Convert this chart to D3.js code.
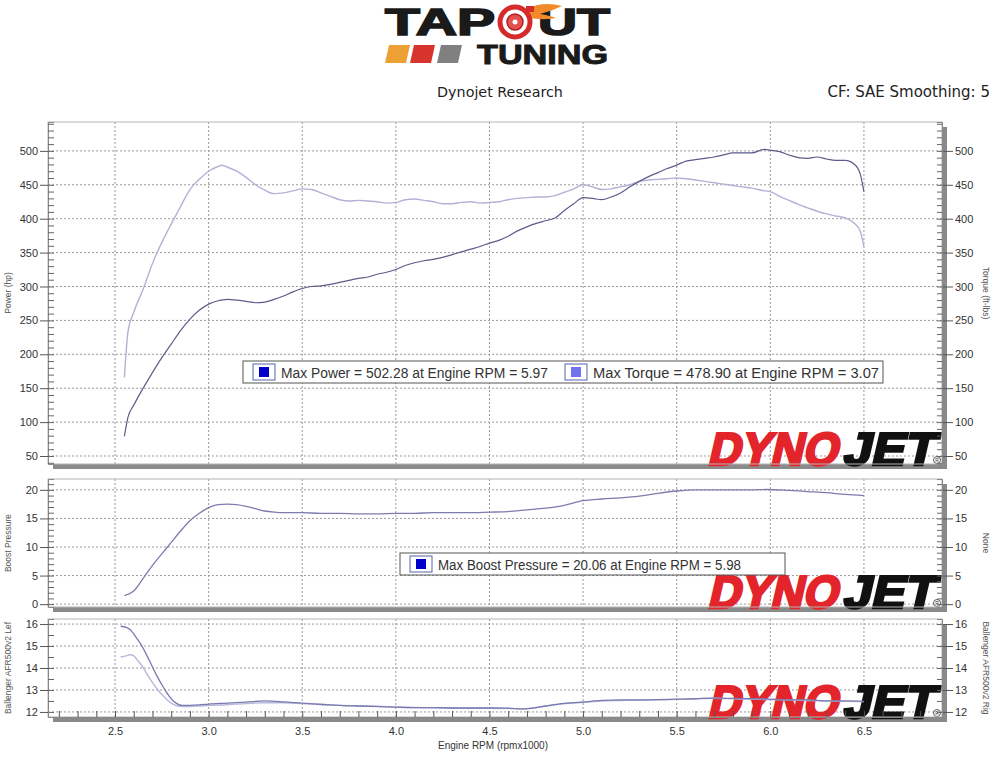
<!DOCTYPE html>
<html><head><meta charset="utf-8">
<script src="https://cdn.jsdelivr.net/npm/d3@7"></script>
<style>body{margin:0;background:#fff;} svg{display:block}</style>
</head><body><svg id="c" width="1000" height="770"></svg>
<script>
// ---------------- DATA ----------------
const rpmTop = [2.55,2.57,2.6,2.65,2.7,2.75,2.8,2.85,2.9,2.95,3.0,3.05,3.07,3.1,3.15,3.2,3.25,3.3,3.35,3.4,3.45,3.5,3.55,3.6,3.65,3.7,3.75,3.8,3.85,3.9,3.95,4.0,4.05,4.1,4.15,4.2,4.25,4.3,4.35,4.4,4.45,4.5,4.55,4.6,4.65,4.7,4.75,4.8,4.85,4.9,4.95,5.0,5.05,5.1,5.15,5.2,5.25,5.3,5.35,5.4,5.45,5.5,5.55,5.6,5.65,5.7,5.75,5.8,5.85,5.9,5.97,6.0,6.05,6.1,6.15,6.2,6.25,6.3,6.35,6.4,6.45,6.48,6.5];
const powerHp = [79,108,125,150,173,195,215,235,252,265,274,279,280,281,280,278,276,277,281,286,292,297,300,301,303,306,309,312,314,318,321,325,331,335,338,340,343,347,351,355,359,364,368,374,382,388,393,397,401,412,422,431,430,428,432,438,447,455,462,468,474,479,485,487,489,491,494,497,497,497,502.28,501,499,494,490,489,491,488,486,486,480,466,440];
const torqueFtLb = [166,235,262,296,334,365,392,418,443,458,470,477,478.9,476,470,461,450,442,437,438,441,444,443,438,433,428,426,427,426,425,423,424,428,429,427,425,422,422,424,425,423,424,425,428,430,431,432,432,434,439,444,450,447,443,444,447,450,455,457,458,459,460,459,457,455,453,451,449,447,445,441,440,433,427,421,416,411,407,404,401,393,382,359];

const rpmBoost = [2.55,2.6,2.65,2.7,2.75,2.8,2.85,2.9,2.95,3.0,3.05,3.1,3.15,3.2,3.25,3.3,3.35,3.4,3.5,3.6,3.7,3.8,3.9,4.0,4.1,4.2,4.3,4.4,4.5,4.6,4.7,4.8,4.9,5.0,5.1,5.2,5.3,5.4,5.5,5.6,5.7,5.8,5.9,5.98,6.1,6.2,6.3,6.4,6.5];
const boostPsi = [1.5,2.3,4.5,6.8,8.8,10.8,12.8,14.6,15.9,16.9,17.4,17.5,17.4,17.1,16.7,16.3,16.1,16.0,16.0,15.9,15.9,15.8,15.8,15.9,15.9,16.0,16.0,16.0,16.1,16.2,16.5,16.8,17.3,18.1,18.4,18.6,18.9,19.4,19.8,20.0,20.0,20.0,20.0,20.06,19.9,19.7,19.5,19.2,19.0];

const rpmAfr = [2.53,2.56,2.58,2.6,2.62,2.64,2.68,2.72,2.76,2.8,2.83,2.86,2.9,2.95,3.0,3.1,3.2,3.3,3.4,3.5,3.6,3.7,3.8,3.9,4.0,4.1,4.2,4.3,4.4,4.5,4.6,4.68,4.75,4.8,4.87,4.95,5.0,5.1,5.2,5.3,5.4,5.5,5.6,5.7,5.8,5.9,6.0,6.1,6.2,6.3,6.4,6.5];
const afrLeft = [15.9,15.85,15.75,15.55,15.3,15.05,14.4,13.7,13.1,12.6,12.38,12.3,12.3,12.32,12.36,12.4,12.45,12.5,12.46,12.4,12.35,12.3,12.27,12.25,12.22,12.2,12.2,12.18,12.18,12.18,12.17,12.14,12.2,12.27,12.36,12.42,12.45,12.53,12.55,12.55,12.56,12.58,12.6,12.63,12.62,12.6,12.58,12.55,12.55,12.5,12.5,12.48];
const afrRight = [14.5,14.55,14.6,14.55,14.35,14.15,13.6,13.1,12.7,12.4,12.28,12.25,12.25,12.27,12.3,12.33,12.38,12.42,12.42,12.38,12.33,12.3,12.27,12.25,12.22,12.2,12.19,12.18,12.17,12.17,12.16,12.14,12.2,12.27,12.35,12.41,12.44,12.5,12.52,12.53,12.55,12.57,12.6,12.62,12.6,12.58,12.56,12.54,12.52,12.5,12.48,12.47];

const xTicks = [2.5,3.0,3.5,4.0,4.5,5.0,5.5,6.0,6.5];
const powerTicks = [50,100,150,200,250,300,350,400,450,500];
const boostTicks = [0,5,10,15,20];
const afrTicks = [12,13,14,15,16];

const legendTop = ["Max Power = 502.28 at Engine RPM = 5.97","Max Torque = 478.90 at Engine RPM = 3.07"];
const legendMid = ["Max Boost Pressure = 20.06 at Engine RPM = 5.98"];

// ---------------- LAYOUT ----------------
const svg = d3.select("#c");
const X0 = 48, X1 = 942;
const x = d3.scaleLinear().domain([2.142, 6.917]).range([X0, X1]);

const panels = [
  {top:122, bottom:464, domain:[38.2,542.6], ticks:powerTicks, minor:d3.range(40,541,10), fmt:d3.format("d"), ltitle:"Power (hp)", rtitle:"Torque (ft-lbs)"},
  {top:479, bottom:607, domain:[-0.5,21.9], ticks:boostTicks, minor:d3.range(0,22,1), fmt:d3.format("d"), ltitle:"Boost Pressure", rtitle:"None"},
  {top:619, bottom:717, domain:[11.77,16.23], ticks:afrTicks, minor:d3.range(12,16.01,0.5), fmt:d3.format("d"), ltitle:"Ballenger AFR500v2 Lef", rtitle:"Ballenger AFR500v2 Rig"}
];
panels.forEach(p => p.y = d3.scaleLinear().domain(p.domain).range([p.bottom, p.top]));

const gridCol = "#9a9a9a";
const labelFont = "'Liberation Sans', Arial, sans-serif";

// ---------------- HEADER / LOGO ----------------
const logo = svg.append("g");
logo.append("text").attr("x",385).attr("y",35).attr("textLength",110).attr("lengthAdjust","spacingAndGlyphs")
  .attr("font-family",labelFont).attr("font-weight","bold").attr("font-size",37)
  .attr("fill","#1a1a1a").attr("stroke","#1a1a1a").attr("stroke-width",1.6).text("TAP");
logo.append("text").attr("x",538).attr("y",35).attr("textLength",72).attr("lengthAdjust","spacingAndGlyphs")
  .attr("font-family",labelFont).attr("font-weight","bold").attr("font-size",37)
  .attr("fill","#1a1a1a").attr("stroke","#1a1a1a").attr("stroke-width",1.6).text("UT");
// turbo "O"
logo.append("path").attr("d","M528,9 C540,2 552,4 562,6 C555,9 548,12 540,14 C546,15 552,16 556,18 C546,20 536,19 530,18 Z").attr("fill","#f08a2a");
logo.append("circle").attr("cx",515).attr("cy",22).attr("r",15).attr("fill","none").attr("stroke","#d62b2b").attr("stroke-width",5);
logo.append("circle").attr("cx",515).attr("cy",22).attr("r",8).attr("fill","#e25050").attr("stroke","#b01e1e").attr("stroke-width",1.5);
logo.append("circle").attr("cx",515).attr("cy",22).attr("r",2.5).attr("fill","#fff");
logo.append("rect").attr("x",526).attr("y",6).attr("width",8).attr("height",6).attr("fill","#d62b2b");
// stripes
[["#eda034",389],["#d8342c",414],["#808080",441]].forEach(([c,x0])=>{
  logo.append("polygon").attr("points",`${x0},45 ${x0+21},45 ${x0+17},63 ${x0-4},63`).attr("fill",c);
});
logo.append("text").attr("x",477).attr("y",64).attr("textLength",131).attr("lengthAdjust","spacingAndGlyphs")
  .attr("font-family",labelFont).attr("font-weight","bold").attr("font-size",28)
  .attr("fill","#1a1a1a").attr("stroke","#1a1a1a").attr("stroke-width",1).text("TUNING");

svg.append("text").attr("x",500).attr("y",97).attr("text-anchor","middle")
  .attr("font-family","'DejaVu Sans', sans-serif").attr("font-size",14.3).attr("fill","#222").text("Dynojet Research");
svg.append("text").attr("x",990).attr("y",97).attr("text-anchor","end")
  .attr("font-family","'DejaVu Sans', sans-serif").attr("font-size",15).attr("fill","#222").text("CF: SAE Smoothing: 5");

// ---------------- PANELS ----------------
function dynojet(g, bottom){
  const base = bottom + 1;
  const lg = g.append("g").attr("transform",`translate(0,${base}) skewX(-13) translate(0,${-base})`);
  lg.append("text").attr("x",707).attr("y",base).attr("textLength",130).attr("lengthAdjust","spacingAndGlyphs")
    .attr("font-family",labelFont).attr("font-weight","bold").attr("font-size",46)
    .attr("fill","#e3242b").attr("stroke","#e3242b").attr("stroke-width",2.6).text("DYNO");
  lg.append("text").attr("x",842).attr("y",base).attr("textLength",92).attr("lengthAdjust","spacingAndGlyphs")
    .attr("font-family",labelFont).attr("font-weight","bold").attr("font-size",46)
    .attr("fill","#111").attr("stroke","#111").attr("stroke-width",2.6).text("JET");
  g.append("circle").attr("cx",937).attr("cy",bottom-4).attr("r",3.5).attr("fill","#fff").attr("stroke","#333").attr("stroke-width",0.8);
  g.append("text").attr("x",937).attr("y",bottom-2).attr("text-anchor","middle").attr("font-size",5).attr("font-family",labelFont).attr("fill","#333").text("R");
}

panels.forEach((p,i) => {
  const g = svg.append("g");
  const h = p.bottom - p.top;
  g.append("rect").attr("x",X0+5).attr("y",p.top+5).attr("width",X1-X0).attr("height",h).attr("fill","#8a8a8a");
  g.append("rect").attr("x",X0).attr("y",p.top).attr("width",X1-X0).attr("height",h).attr("fill","#fff");
  // grid
  g.append("g").selectAll("line").data(xTicks).join("line")
    .attr("x1",d=>x(d)).attr("x2",d=>x(d)).attr("y1",p.top).attr("y2",p.bottom)
    .attr("stroke",gridCol).attr("stroke-width",1).attr("stroke-dasharray","2,2");
  g.append("g").selectAll("line").data(p.ticks).join("line")
    .attr("x1",X0).attr("x2",X1).attr("y1",d=>p.y(d)).attr("y2",d=>p.y(d))
    .attr("stroke",gridCol).attr("stroke-width",1).attr("stroke-dasharray","2,2");
  dynojet(g, p.bottom);
  // border
  g.append("rect").attr("x",X0).attr("y",p.top).attr("width",X1-X0).attr("height",h)
    .attr("fill","none").attr("stroke","#b5b5b5").attr("stroke-width",1);
  // left axis
  const la = g.append("g").attr("transform",`translate(${X0},0)`)
    .call(d3.axisLeft(p.y).tickValues(p.ticks).tickFormat(p.fmt).tickSize(8).tickPadding(2));
  la.select(".domain").remove();
  la.selectAll("text").attr("font-family",labelFont).attr("font-size",11).attr("fill","#333");
  la.selectAll("line").attr("stroke","#555");
  const lm = g.append("g").attr("transform",`translate(${X0},0)`)
    .call(d3.axisLeft(p.y).tickValues(p.minor).tickFormat("").tickSize(-6));
  lm.select(".domain").attr("stroke","#888");
  lm.selectAll("line").attr("stroke","#666");
  // right axis
  const ra = g.append("g").attr("transform",`translate(${X1},0)`)
    .call(d3.axisRight(p.y).tickValues(p.ticks).tickFormat(p.fmt).tickSize(11).tickPadding(2));
  ra.select(".domain").remove();
  ra.selectAll("text").attr("font-family",labelFont).attr("font-size",11).attr("fill","#333");
  ra.selectAll("line").attr("stroke","#555");
  const rm = g.append("g").attr("transform",`translate(${X1},0)`)
    .call(d3.axisRight(p.y).tickValues(p.minor).tickFormat("").tickSize(-5));
  rm.select(".domain").attr("stroke","#888");
  rm.selectAll("line").attr("stroke","#666");
  // titles
  const cy = (p.top+p.bottom)/2;
  g.append("text").attr("transform",`translate(11,${cy}) rotate(-90)`).attr("text-anchor","middle")
    .attr("font-family",labelFont).attr("font-size",8.5).attr("fill","#555").text(p.ltitle);
  g.append("text").attr("transform",`translate(983,${cy}) rotate(90)`).attr("text-anchor","middle")
    .attr("font-family",labelFont).attr("font-size",8.5).attr("fill","#555").text(p.rtitle);
  p.g = g;
});

// bottom x axis
const pb = panels[2];
const xa = svg.append("g").attr("transform",`translate(0,${pb.bottom})`)
  .call(d3.axisBottom(x).tickValues(xTicks).tickFormat(d3.format(".1f")).tickSize(0).tickPadding(10));
xa.select(".domain").remove();
xa.selectAll("text").attr("font-family",labelFont).attr("font-size",11).attr("fill","#333");
const xm = svg.append("g").attr("transform",`translate(0,${pb.bottom})`)
  .call(d3.axisBottom(x).tickValues(d3.range(22,69).map(d=>d/10)).tickFormat("").tickSize(-6));
xm.select(".domain").attr("stroke","#888");
xm.selectAll("line").attr("stroke","#555");
svg.append("text").attr("x",493).attr("y",749).attr("text-anchor","middle")
  .attr("font-family",labelFont).attr("font-size",10).attr("fill","#333").text("Engine RPM (rpmx1000)");

// ---------------- LINES ----------------
function drawLine(p, xs, ys, color, w){
  const line = d3.line().x((d,i)=>x(xs[i])).y(d=>p.y(d)).curve(d3.curveMonotoneX);
  p.g.append("path").datum(ys).attr("d",line).attr("fill","none").attr("stroke",color).attr("stroke-width",w);
}
drawLine(panels[0], rpmTop, torqueFtLb, "#b2b2d6", 1.4);
drawLine(panels[0], rpmTop, powerHp, "#5c5c8c", 1.2);
drawLine(panels[1], rpmBoost, boostPsi, "#7c7cae", 1.3);
drawLine(panels[2], rpmAfr, afrRight, "#b8b8dc", 1.4);
drawLine(panels[2], rpmAfr, afrLeft, "#7a7ab0", 1.3);

// ---------------- LEGENDS ----------------
function legend(x0, y0, w, items){
  const g = svg.append("g");
  g.append("rect").attr("x",x0).attr("y",y0).attr("width",w).attr("height",22)
    .attr("fill","#fff").attr("stroke","#555").attr("stroke-width",1);
  items.forEach(it=>{
    g.append("rect").attr("x",it.ix).attr("y",y0+3).attr("width",22).attr("height",16)
      .attr("fill","#fff").attr("stroke","#5566aa").attr("stroke-width",1);
    g.append("rect").attr("x",it.ix+6).attr("y",y0+6).attr("width",10).attr("height",10).attr("fill",it.col);
    g.append("text").attr("x",it.ix+28).attr("y",y0+16.5).attr("textLength",it.tl).attr("lengthAdjust","spacingAndGlyphs")
      .attr("font-family",labelFont).attr("font-size",14).attr("fill","#333").text(it.t);
  });
}
legend(243, 361, 640, [{ix:253,col:"#0000cc",t:legendTop[0],tl:267},{ix:565,col:"#7373ee",t:legendTop[1],tl:286}]);
legend(400, 553, 385, [{ix:410,col:"#0000cc",t:legendMid[0],tl:303}]);
</script></body></html>
